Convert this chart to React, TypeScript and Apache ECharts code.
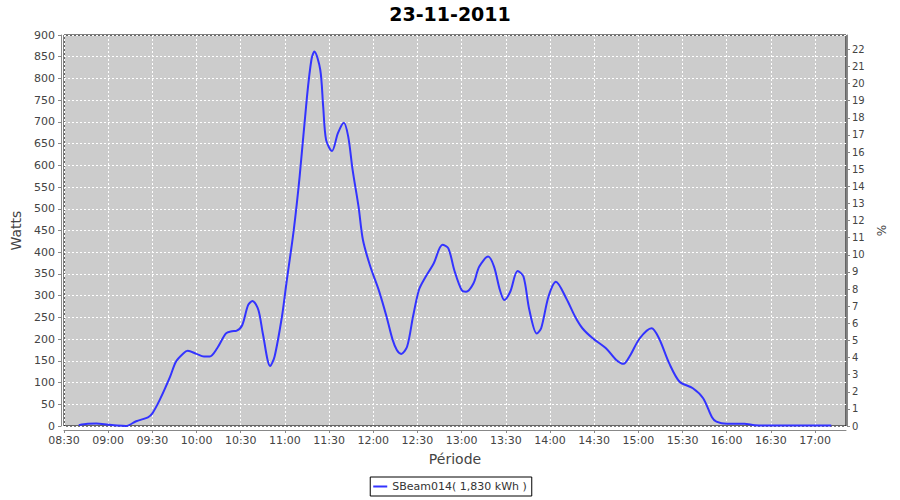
import React, { useEffect, useRef } from "react";
import * as echarts from "echarts";

const TITLE = "23-11-2011";
const SERIES_NAME = "SBeam014( 1,830 kWh )";

const times: string[] = [
  "08:40", "08:46", "08:52", "09:00", "09:06", "09:12", "09:19", "09:27", "09:30", "09:35",
  "09:42", "09:46", "09:51", "09:54", "10:00", "10:05", "10:09", "10:14", "10:20", "10:24",
  "10:27", "10:31", "10:35", "10:38", "10:42", "10:45", "10:50", "10:53", "10:58", "11:01",
  "11:06", "11:10", "11:15", "11:18", "11:20", "11:24", "11:26", "11:28", "11:32", "11:36",
  "11:40", "11:43", "11:46", "11:50", "11:53", "11:58", "12:04", "12:09", "12:13", "12:16",
  "12:19", "12:23", "12:27", "12:31", "12:35", "12:41", "12:47", "12:51", "12:55", "13:00",
  "13:03", "13:08", "13:12", "13:18", "13:22", "13:26", "13:29", "13:33", "13:38", "13:42",
  "13:46", "13:51", "13:54", "13:59", "14:04", "14:11", "14:17", "14:22", "14:29", "14:38",
  "14:45", "14:50", "14:54", "15:01", "15:09", "15:14", "15:21", "15:28", "15:37", "15:44",
  "15:50", "15:53", "16:00", "16:12", "16:19", "16:30", "17:11",
];

const watts: number[] = [
  2, 5, 6, 3, 1, 0, 11, 20, 29, 60,
  113, 148, 167, 173, 166, 160, 160, 179, 213, 218,
  219, 232, 278, 288, 267, 213, 138, 160, 252, 328,
  451, 574, 758, 843, 862, 820, 735, 658, 633, 674,
  698, 666, 589, 505, 428, 367, 310, 252, 200, 175,
  166, 183, 252, 313, 340, 374, 417, 409, 359, 313,
  309, 328, 367, 390, 367, 313, 290, 309, 357, 344,
  267, 213, 225, 298, 332, 294, 252, 225, 202, 179,
  152, 143, 160, 202, 225, 202, 144, 102, 87, 64,
  20, 10, 5, 5, 2, 1, 1,
];

const xTickLabels: string[] = [
  "08:30", "09:00", "09:30", "10:00", "10:30", "11:00", "11:30", "12:00", "12:30",
  "13:00", "13:30", "14:00", "14:30", "15:00", "15:30", "16:00", "16:30", "17:00",
];

const pctTicks: number[] = [
  0, 1, 2, 3, 4, 5, 6, 7, 8, 9, 10, 11, 12, 13, 14, 15, 16, 17, 18, 19, 20, 21, 22,
];

const toMin = (s: string) => {
  const [h, m] = s.split(":").map(Number);
  return h * 60 + m;
};
const fmt = (v: number) => {
  const h = Math.floor(v / 60);
  const m = Math.round(v - h * 60);
  return (h < 10 ? "0" : "") + h + ":" + (m < 10 ? "0" : "") + m;
};

export default function App() {
  const ref = useRef<HTMLDivElement>(null);
  useEffect(() => {
    if (!ref.current) return;
    const chart = echarts.init(ref.current, undefined, { renderer: "svg" });
    const font = "DejaVu Sans";
    const xTicks = xTickLabels.map(toMin);
    chart.setOption({
      animation: false,
      backgroundColor: "#ffffff",
      textStyle: { fontFamily: font },
      title: {
        text: TITLE,
        left: "center",
        top: 4,
        padding: 0,
        textStyle: { fontFamily: font, fontSize: 19, fontWeight: "bold", color: "#000" },
      },
      grid: {
        left: 64,
        right: 54,
        top: 35,
        bottom: 74,
        show: true,
        backgroundColor: "#cccccc",
        borderColor: "#000000",
        borderWidth: 1,
      },
      legend: {
        top: 477,
        left: "center",
        data: [SERIES_NAME],
        icon: "rect",
        itemWidth: 14,
        itemHeight: 2,
        itemGap: 4,
        padding: [4, 5, 4, 3],
        borderColor: "#000",
        borderWidth: 1,
        borderRadius: 0,
        backgroundColor: "#fff",
        textStyle: { fontFamily: font, fontSize: 11, color: "#333" },
      },
      xAxis: {
        type: "value",
        min: toMin("08:30"),
        max: toMin("17:21"),
        interval: 30,
        offset: 4,
        name: "Période",
        nameLocation: "middle",
        nameGap: 22,
        nameTextStyle: { fontFamily: font, fontSize: 14, color: "#444" },
        axisLine: { show: true, onZero: false, lineStyle: { color: "#888" } },
        axisTick: { show: true, length: 3, customValues: xTicks, lineStyle: { color: "#888" } },
        axisLabel: {
          customValues: xTicks,
          formatter: (v: number) => fmt(v),
          fontFamily: font,
          fontSize: 11,
          color: "#444",
          margin: 5,
        },
        splitLine: { show: true, lineStyle: { color: "#ffffff", type: [2, 2], width: 1 } },
      },
      yAxis: [
        {
          type: "value",
          min: 0,
          max: 900,
          interval: 50,
          offset: 3,
          name: "Watts",
          nameLocation: "middle",
          nameGap: 31,
          nameTextStyle: { fontFamily: font, fontSize: 14, color: "#444" },
          axisLine: { show: true, lineStyle: { color: "#888" } },
          axisTick: { show: true, length: 3, lineStyle: { color: "#888" } },
          axisLabel: { fontFamily: font, fontSize: 11, color: "#444", margin: 6 },
          splitLine: { show: true, lineStyle: { color: "#ffffff", type: [2, 2], width: 1 } },
        },
        {
          type: "value",
          position: "right",
          min: 0,
          max: 22.84,
          interval: 1,
          offset: 1,
          name: "%",
          nameLocation: "middle",
          nameGap: 28,
          nameTextStyle: { fontFamily: font, fontSize: 12, color: "#444" },
          axisLine: { show: true, lineStyle: { color: "#888" } },
          axisTick: { show: true, length: 3, customValues: pctTicks, lineStyle: { color: "#888" } },
          axisLabel: { customValues: pctTicks, fontFamily: font, fontSize: 10, color: "#444", margin: 5 },
          splitLine: { show: false },
        },
      ],
      series: [
        {
          name: SERIES_NAME,
          type: "line",
          yAxisIndex: 0,
          smooth: 0.3,
          showSymbol: false,
          symbol: "none",
          lineStyle: { color: "#3333ff", width: 2 },
          itemStyle: { color: "#3333ff" },
          data: times.map((t, i) => [toMin(t), watts[i]]),
        },
      ],
    });
    return () => chart.dispose();
  }, []);
  return (
    <div
      ref={ref}
      style={{ position: "absolute", left: 0, top: 0, width: 900, height: 500 }}
    />
  );
}
